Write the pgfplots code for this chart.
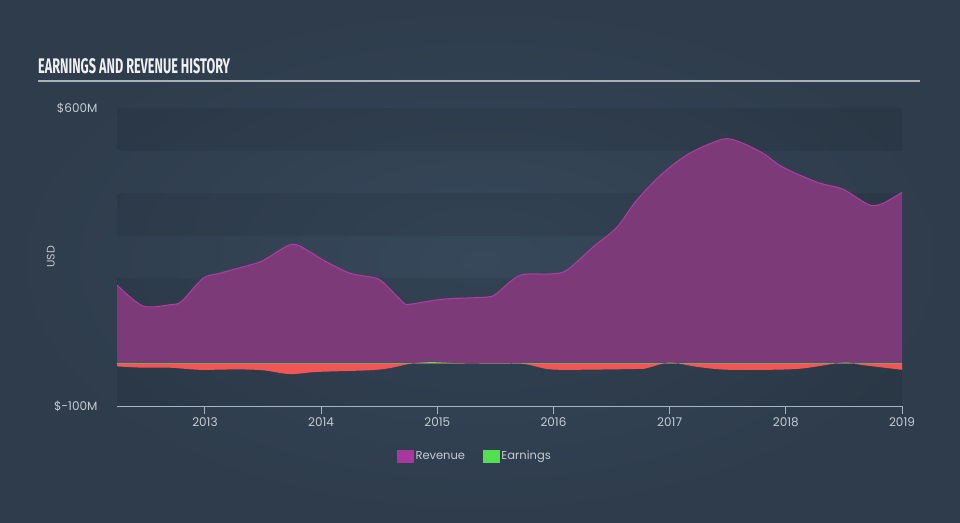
\documentclass[border=0pt]{standalone}
\usepackage{fontspec}
\setmainfont{Poppins}
\newfontfamily\titlefont{Fira Sans}
\usepackage{graphicx}
\usepackage{pgfplots}
\pgfplotsset{compat=1.18}

\definecolor{bgin}{HTML}{37485B}
\definecolor{bgout}{HTML}{2E3C4B}
\definecolor{titlecol}{HTML}{EEF0F2}
\definecolor{rulecol}{HTML}{A9B0B8}
\definecolor{axiscol}{HTML}{A8B4C0}
\definecolor{tickcol}{HTML}{C5CBD2}
\definecolor{revfill}{HTML}{7D3A79}
\definecolor{revline}{HTML}{B43BA3}
\definecolor{revleg}{HTML}{A8389E}
\definecolor{earnneg}{HTML}{F25555}
\definecolor{earnpos}{HTML}{52E052}

\pgfplotstableread{
year rev
2012.243 184
2012.466 135
2012.700 138
2012.800 146
2012.983 200
2013.129 212
2013.448 236
2013.534 247
2013.749 280
2013.904 262
2014.016 243
2014.248 212
2014.446 202
2014.532 191
2014.704 144
2014.764 139
2015.048 151
2015.427 156
2015.513 165
2015.711 207
2015.969 210
2016.115 219
2016.339 273
2016.546 320
2016.718 384
2016.942 447
2017.174 494
2017.458 527
2017.604 520
2017.802 494
2017.974 461
2018.267 426
2018.465 412
2018.551 400
2018.723 372
2018.835 376
2019.000 402
}\revenue

\pgfplotstableread{
year earn
2012.243 -7
2012.466 -10
2012.698 -10
2012.956 -15
2013.275 -14
2013.499 -16
2013.731 -25
2013.964 -20
2014.420 -16
2014.592 -11
2014.764 -1
2014.937 3
2015.134 1
2015.450 -0.5
2015.737 -1
2015.944 -13
2016.142 -15
2016.718 -13
2016.804 -11
2017.002 2
2017.234 -8
2017.518 -15
2018.095 -13
2018.491 2
2018.663 -4
2019.000 -15
}\earnings

\begin{document}
\begin{tikzpicture}[x=1pt,y=1pt]
\useasboundingbox (0,0) rectangle (960,522);
\shade[inner color=bgin, outer color=bgout] (0,0) rectangle (960,522);
\node[anchor=base west, inner sep=0, text=titlecol] at (38,448)
  {\resizebox{192pt}{15pt}{\titlefont\bfseries EARNINGS AND REVENUE HISTORY}};
\fill[rulecol] (38,439.5) rectangle (920,441.5);

\begin{axis}[
  at={(117pt,116pt)}, anchor=south west,
  scale only axis, width=785pt, height=298pt,
  xmin=2012.243, xmax=2019, ymin=-100, ymax=600,
  axis x line*=bottom, axis y line*=left,
  y axis line style={draw=none},
  x axis line style={draw=axiscol, line width=1pt, -},
  xtick={2013,2014,2015,2016,2017,2018,2019},
  xticklabels={2013,2014,2015,2016,2017,2018,2019},
  x tick style={draw=axiscol, line width=1pt},
  tick align=outside, major tick length=8pt,
  ytick={-100,600}, yticklabels={\$-100M,\$600M},
  y tick style={draw=none},
  tick label style={font=\fontsize{12}{14}\selectfont, text=tickcol},
  yticklabel style={xshift=-8pt},
  ylabel={USD},
  ylabel style={at={(axis description cs:-0.075,0.5)}, font=\fontsize{11}{13}\selectfont, text=tickcol},
  legend style={draw=none, fill=none, at={(0.456,-0.168)}, anchor=center,
    font=\fontsize{11.5}{13}\selectfont, text=tickcol,
    /tikz/every even column/.append style={column sep=16pt}},
  legend columns=2,
]
% background bands
\fill[black, opacity=0.07] (axis cs:2012.243,500) rectangle (axis cs:2019,600);
\fill[black, opacity=0.07] (axis cs:2012.243,300) rectangle (axis cs:2019,400);
\fill[black, opacity=0.07] (axis cs:2012.243,100) rectangle (axis cs:2019,200);
\fill[black, opacity=0.07] (axis cs:2012.243,-100) rectangle (axis cs:2019,0);

\addplot[forget plot, fill=revfill, draw=none, smooth] table[x=year, y=rev] {\revenue} \closedcycle;

\begin{scope}
\clip (axis cs:2012,-100) rectangle (axis cs:2020,0);
\addplot[forget plot, fill=earnneg, draw=none, smooth] table[x=year, y=earn] {\earnings} \closedcycle;
\end{scope}
\begin{scope}
\clip (axis cs:2012,0) rectangle (axis cs:2020,100);
\addplot[forget plot, fill=earnpos, draw=none, smooth] table[x=year, y=earn] {\earnings} \closedcycle;
\end{scope}

\addplot[forget plot, revline, line width=1pt, smooth] table[x=year, y=rev] {\revenue};

\addlegendimage{legend image code/.code={\fill[revleg] (0pt,-6pt) rectangle (16pt,6pt);}}
\addlegendentry{Revenue}
\addlegendimage{legend image code/.code={\fill[earnpos] (0pt,-6pt) rectangle (16pt,6pt);}}
\addlegendentry{Earnings}
\end{axis}
\end{tikzpicture}
\end{document}
